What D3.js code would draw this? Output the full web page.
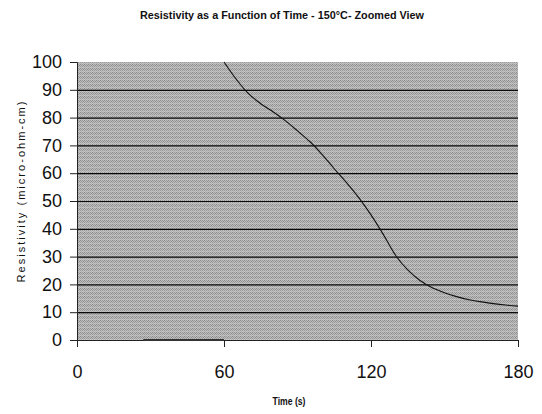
<!DOCTYPE html>
<html>
<head>
<meta charset="utf-8">
<script src="https://cdn.jsdelivr.net/npm/d3@7"></script>
<style>
  html, body { margin: 0; padding: 0; background: #fff; }
  svg { display: block; font-family: "Liberation Sans", Arial, sans-serif; }
</style>
</head>
<body>
<div id="chart"></div>
<script>
// ---- data ----
const title = "Resistivity as a Function of Time - 150°C- Zoomed View";
const xLabel = "Time (s)";
const yLabel = "Resistivity (micro-ohm-cm)";
const xTicks = [0, 60, 120, 180];
const yTicks = [0, 10, 20, 30, 40, 50, 60, 70, 80, 90, 100];
const timeS = [60, 65, 70, 75, 80, 85, 90, 95, 100, 105, 110, 115, 120, 125, 130, 135, 140, 145, 150, 155, 160, 165, 170, 175, 180];
const resistivity = [100, 93.8, 88.6, 85.0, 82.1, 78.9, 75.2, 71.4, 66.8, 61.6, 56.6, 51.2, 45.0, 38.0, 30.5, 25.2, 21.4, 18.8, 17.0, 15.6, 14.5, 13.7, 13.1, 12.6, 12.2];
const lowTime = [27, 60];
const lowValue = [0, 0];

// ---- layout ----
const W = 542, H = 414;
const margin = { left: 77, right: 24, top: 62, bottom: 74 };
const svg = d3.select("#chart").append("svg").attr("width", W).attr("height", H);

const x = d3.scaleLinear().domain([0, 180]).range([margin.left, W - margin.right]);
const y = d3.scaleLinear().domain([0, 100]).range([H - margin.bottom, margin.top]);

// dither pattern
const defs = svg.append("defs");
const pat = defs.append("pattern").attr("id", "dither").attr("patternUnits", "userSpaceOnUse")
  .attr("width", 4).attr("height", 4);
pat.append("rect").attr("width", 4).attr("height", 4).attr("fill", "#bdbdbd");
[[0,0],[2,0],[1,1],[3,1],[0,2],[2,2],[1,3],[3,3]].forEach(([px,py], i) => {
  pat.append("rect").attr("x", px).attr("y", py).attr("width", 1).attr("height", 1)
    .attr("fill", i % 3 === 0 ? "#8c8c8c" : "#9a9a9a");
});
pat.append("rect").attr("x", 0).attr("y", 3).attr("width", 4).attr("height", 1).attr("fill", "#cfcfcf").attr("opacity", 0.5);

svg.append("rect")
  .attr("x", x(0)).attr("y", y(100))
  .attr("width", x(180) - x(0)).attr("height", y(0) - y(100))
  .attr("fill", "url(#dither)");

// gridlines
svg.append("g").selectAll("line").data(yTicks.filter(d => d > 0 && d < 100)).join("line")
  .attr("x1", x(0)).attr("x2", x(180))
  .attr("y1", d => y(d) + 0.5).attr("y2", d => y(d) + 0.5)
  .attr("stroke", "#0a0a0a").attr("stroke-width", 1.2);

// y axis
const yAxis = svg.append("g").attr("transform", `translate(${x(0)},0)`)
  .call(d3.axisLeft(y).tickValues(yTicks).tickSize(7).tickPadding(8));
yAxis.select(".domain").attr("stroke", "#222");
yAxis.selectAll(".tick line").attr("stroke", "#222");
yAxis.selectAll("text").attr("font-size", 18).attr("fill", "#111")
  .attr("font-family", "'Liberation Sans', Arial, sans-serif");

// x axis
const xAxis = svg.append("g").attr("transform", `translate(0,${y(0)})`)
  .call(d3.axisBottom(x).tickValues(xTicks).tickSize(7).tickPadding(18));
xAxis.select(".domain").attr("stroke", "#222");
xAxis.selectAll(".tick line").attr("stroke", "#222");
xAxis.selectAll("text").attr("font-size", 18).attr("fill", "#111")
  .attr("font-family", "'Liberation Sans', Arial, sans-serif");

// series
const line = d3.line().x(d => x(d[0])).y(d => y(d[1])).curve(d3.curveCatmullRom);
svg.append("path").datum(d3.zip(timeS, resistivity))
  .attr("d", line).attr("fill", "none").attr("stroke", "#111").attr("stroke-width", 1.1);
svg.append("path").datum(d3.zip(lowTime, lowValue))
  .attr("d", d3.line().x(d => x(d[0])).y(d => y(d[1]))).attr("fill", "none")
  .attr("stroke", "#333").attr("stroke-width", 2);

// titles
svg.append("text").attr("x", 282).attr("y", 19).attr("text-anchor", "middle")
  .attr("font-size", 11).attr("font-weight", "bold").attr("fill", "#111")
  .attr("textLength", 284).attr("lengthAdjust", "spacingAndGlyphs").text(title);
svg.append("text").attr("x", 289).attr("y", 405).attr("text-anchor", "middle")
  .attr("font-size", 11).attr("font-weight", "bold").attr("fill", "#111")
  .attr("textLength", 33).attr("lengthAdjust", "spacingAndGlyphs").text(xLabel);
svg.append("text").attr("transform", "translate(25,192) rotate(-90)").attr("text-anchor", "middle")
  .attr("font-size", 11).attr("fill", "#111")
  .attr("textLength", 181).attr("lengthAdjust", "spacing").text(yLabel);
</script>
</body>
</html>
